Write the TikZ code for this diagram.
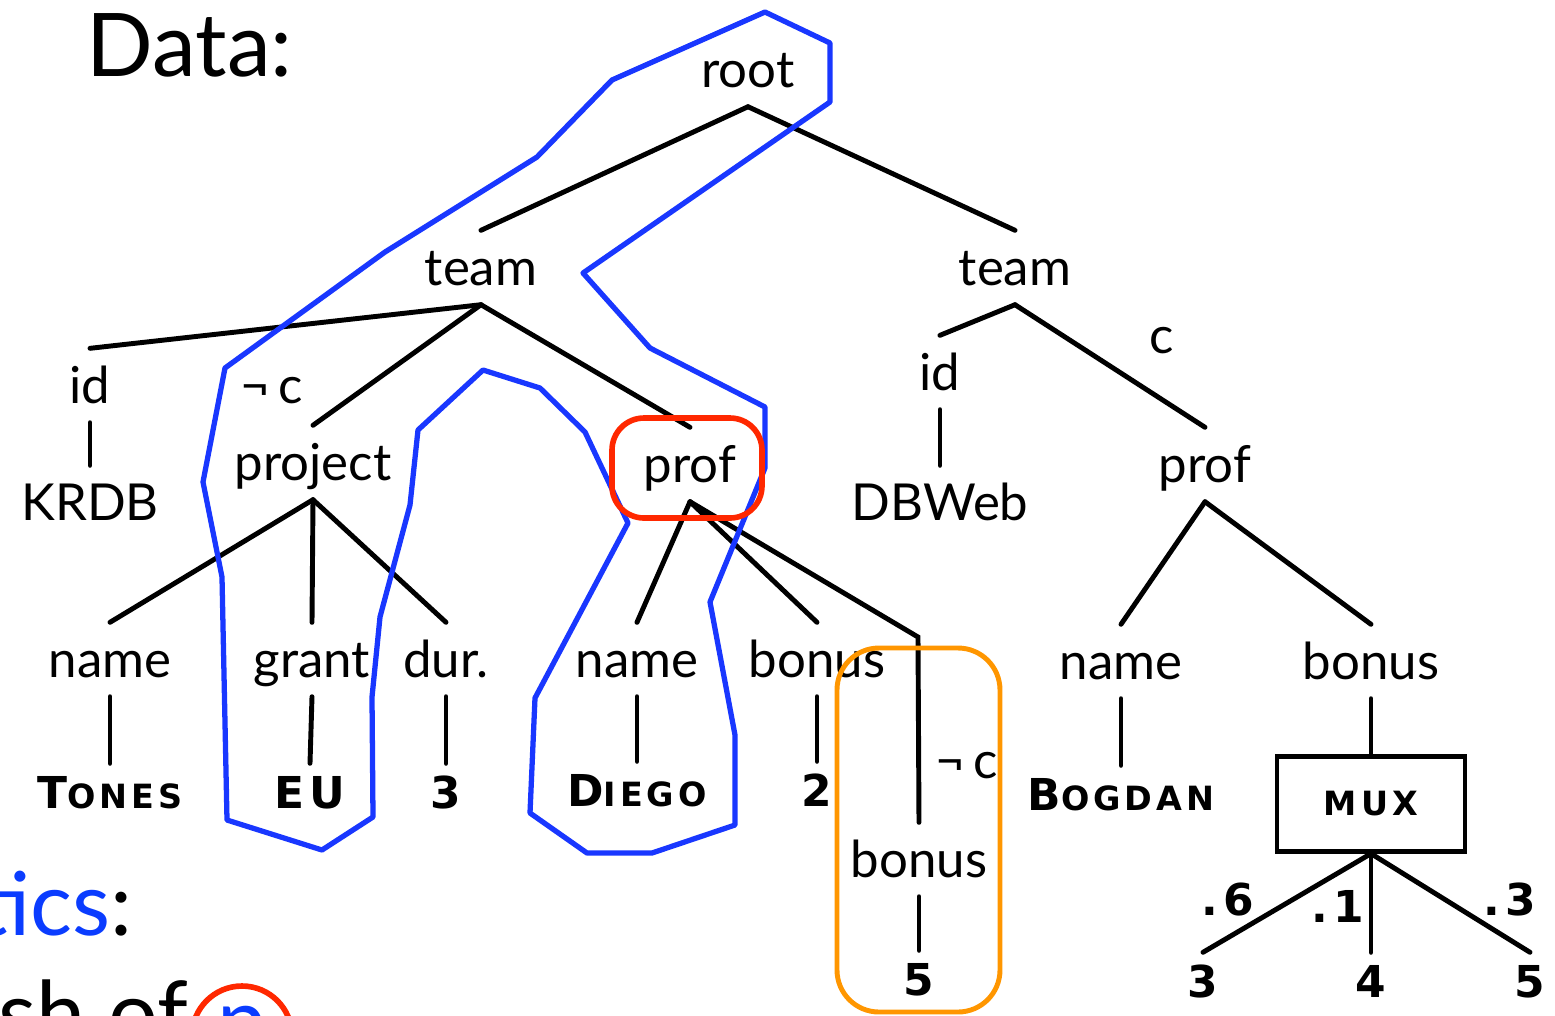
\documentclass[tikz,border=0pt]{standalone}
\usepackage{fontspec}
\setmainfont{Lato}
\newfontfamily\valfont{DejaVu Sans}[LetterSpace=12]
\usetikzlibrary{positioning}

\definecolor{hlblue}{RGB}{25,55,255}
\definecolor{hlred}{RGB}{255,40,0}
\definecolor{hlorange}{RGB}{255,150,0}
\definecolor{txtblue}{RGB}{10,60,255}

% small caps in the copperplate look
\newcommand{\smcp}[2]{{\fontsize{12.5}{13}\selectfont #1\fontsize{9.5}{10}\selectfont #2}}

\tikzset{
  lbl/.style={font=\fontsize{14.5}{17}\selectfont, anchor=base, inner xsep=0pt,
    inner ysep=0.14cm, text height=0.4cm, text depth=0.05cm},
  val/.style={font=\valfont\bfseries\fontsize{12.5}{13}\selectfont, anchor=base,
    inner xsep=0pt, inner ysep=0.14cm, text height=0.3cm, text depth=0.05cm},
  edge/.style={line width=1.4pt, line cap=round},
  hlpath/.style={line width=1.5pt, line join=round},
}

\begin{document}
\begin{tikzpicture}
\useasboundingbox (0,0) rectangle (15.55,-10.15);

\node[font=\fontsize{25}{28}\selectfont, anchor=base west, inner sep=0pt] (title) at (0.86,-0.76) {Data:};
\node[font=\fontsize{25}{28}\selectfont, anchor=base east, inner sep=0pt] (sem) at (1.33,-9.35) {\textcolor{txtblue}{tics}:};
\node[font=\fontsize{25}{28}\selectfont, anchor=base west, inner sep=0pt] (match) at (-0.02,-10.44) {sh of};

% tree nodes
\node[lbl] (root) at (7.48,-0.87) {root};
\node[lbl] (teamA) at (4.81,-2.85) {team};
\node[lbl] (teamB) at (10.15,-2.85) {team};
\node[lbl] (idA) at (0.90,-4.03) {id};
\node[lbl] (krdb) at (0.90,-5.20) {KRDB};
\node[lbl] (project) at (3.13,-4.80) {project};
\node[lbl] (profA) at (6.90,-4.82) {prof};
\node[lbl] (idB) at (9.40,-3.90) {id};
\node[lbl] (dbweb) at (9.40,-5.20) {DBWeb};
\node[lbl] (profB) at (12.05,-4.82) {prof};
\node[lbl] (nameA) at (1.10,-6.77) {name};
\node[lbl] (grant) at (3.12,-6.77) {grant};
\node[lbl] (dur) at (4.46,-6.77) {dur.};
\node[lbl] (nameB) at (6.37,-6.77) {name};
\node[lbl] (bonusA) at (8.17,-6.77) {bonus};
\node[lbl] (nameC) at (11.21,-6.79) {name};
\node[lbl] (bonusC) at (13.71,-6.79) {bonus};
\node[lbl] (bonusB) at (9.19,-8.77) {bonus};

% condition labels
\node[lbl, inner sep=0pt] (negA) at (2.72,-4.03) {¬\,c};
\node[lbl, inner sep=0pt] (posB) at (11.62,-3.53) {c};
\node[lbl, inner sep=0pt] (negB) at (9.67,-7.78) {¬\,c};

% values
\node[val] (tones) at (1.10,-8.08) {\smcp{T}{ONES}};
\node[val] (eu) at (3.10,-8.08) {EU};
\node[val] (durval) at (4.46,-8.08) {3};
\node[val] (diego) at (6.37,-8.06) {\smcp{D}{IEGO}};
\node[val] (bonusAval) at (8.17,-8.06) {2};
\node[val] (bogdan) at (11.21,-8.10) {\smcp{B}{OGDAN}};
\node[val] (bonusBval) at (9.19,-9.95) {5};

% mux
\node[draw, line width=1.2pt, minimum width=1.88cm, minimum height=0.95cm, inner sep=0pt,
  font=\valfont\bfseries\fontsize{9.5}{10}\selectfont] (mux) at (13.71,-8.04) {MUX};
\node[val] (muxA) at (12.03,-9.97) {3};
\node[val] (muxB) at (13.71,-9.97) {4};
\node[val] (muxC) at (15.30,-9.97) {5};
\node[val, inner sep=0pt] (pA) at (12.28,-9.15) {.6};
\node[val, inner sep=0pt] (pB) at (13.38,-9.22) {.1};
\node[val, inner sep=0pt] (pC) at (15.10,-9.15) {.3};

\coordinate (bend) at (9.18,-6.37);

% edges
\draw[edge] (root.south) -- (teamA.north);
\draw[edge] (root.south) -- (teamB.north);
\draw[edge] (teamA.south) -- (idA.north);
\draw[edge] (teamA.south) -- (project.north);
\draw[edge] (teamA.south) -- (profA.north);
\draw[edge] (teamB.south) -- (idB.north);
\draw[edge] (teamB.south) -- (profB.north);
\draw[edge] (idA.south) -- (krdb.north);
\draw[edge] (idB.south) -- (dbweb.north);
\draw[edge] (project.south) -- (nameA.north);
\draw[edge] (project.south) -- (grant.north);
\draw[edge] (project.south) -- (dur.north);
\draw[edge] (profA.south) -- (nameB.north);
\draw[edge] (profA.south) -- (bonusA.north);
\draw[edge] (profA.south) -- (bend) -- (bonusB.north);
\draw[edge] (profB.south) -- (nameC.north);
\draw[edge] (profB.south) -- (bonusC.north);
\draw[edge] (nameA.south) -- (tones.north);
\draw[edge] (grant.south) -- (eu.north);
\draw[edge] (dur.south) -- (durval.north);
\draw[edge] (nameB.south) -- (diego.north);
\draw[edge] (bonusA.south) -- (bonusAval.north);
\draw[edge] (nameC.south) -- (bogdan.north);
\draw[edge] (bonusC.south) -- (mux.north);
\draw[edge] (bonusB.south) -- (bonusBval.north);
\draw[edge] (mux.south) -- (muxA.north);
\draw[edge] (mux.south) -- (muxB.north);
\draw[edge] (mux.south) -- (muxC.north);

% highlights
\draw[hlpath, hlblue] (7.65,-0.12) -- (8.30,-0.43) -- (8.30,-1.02) -- (5.83,-2.73)
  -- (6.50,-3.48) -- (7.65,-4.07) -- (7.65,-4.68) -- (7.10,-6.02) -- (7.35,-7.35)
  -- (7.35,-8.25) -- (6.52,-8.53) -- (5.87,-8.53) -- (5.30,-8.13) -- (5.35,-6.98)
  -- (6.28,-5.23) -- (5.85,-4.32) -- (5.40,-3.88) -- (4.83,-3.70) -- (4.18,-4.30)
  -- (4.10,-5.05) -- (3.80,-6.17) -- (3.72,-6.97) -- (3.73,-8.17) -- (3.22,-8.50)
  -- (2.27,-8.20) -- (2.22,-5.77) -- (2.03,-4.82) -- (2.25,-3.68) -- (3.85,-2.52)
  -- (5.37,-1.57) -- (6.12,-0.80) -- cycle;
\draw[hlpath, hlred, line width=1.6pt, rounded corners=0.32cm] (6.12,-4.18) rectangle (7.62,-5.18);
\draw[hlpath, hlorange, line width=1.4pt, rounded corners=0.42cm] (8.37,-6.48) rectangle (10.00,-10.12);
\node[circle, draw=hlred, line width=1.6pt, minimum size=1.0cm, inner sep=0pt,
  text=txtblue, font=\fontsize{25}{28}\selectfont] (pq) at (2.42,-10.36) {p};
\end{tikzpicture}
\end{document}
